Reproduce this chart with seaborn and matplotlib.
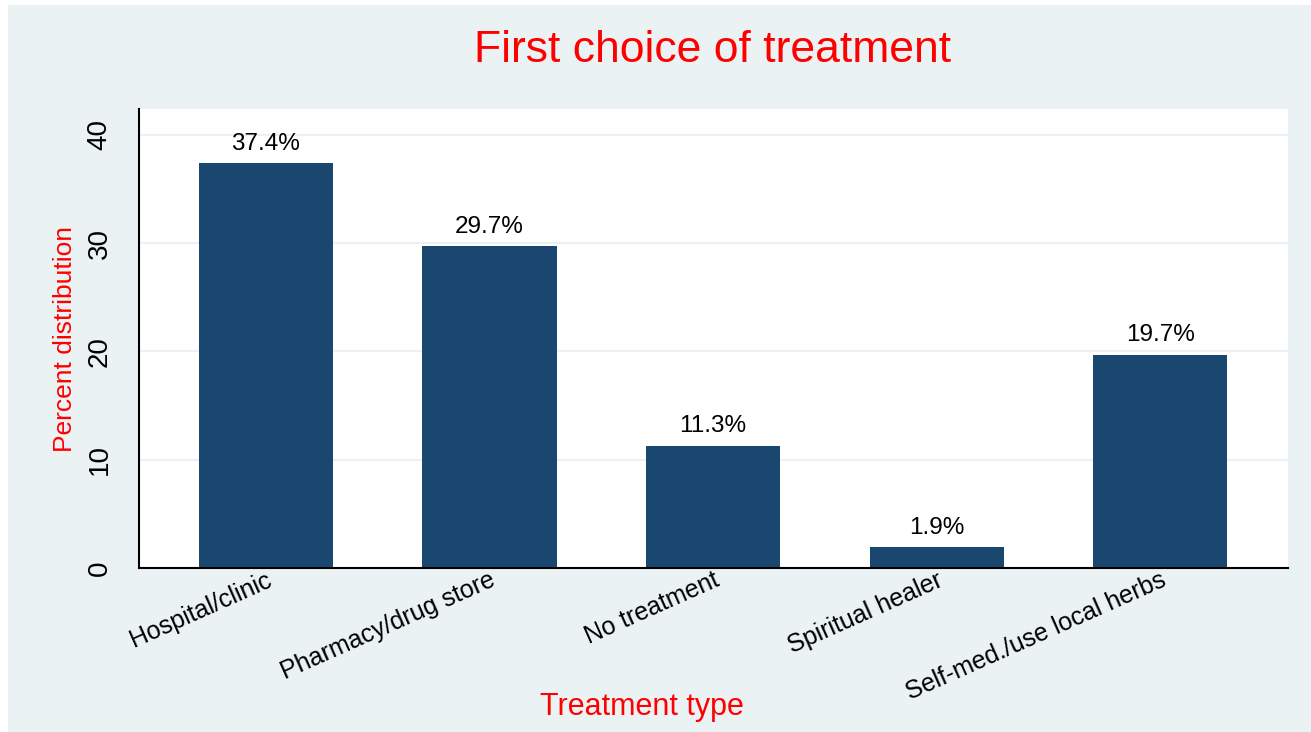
import matplotlib
matplotlib.use("Agg")
import matplotlib.pyplot as plt
import seaborn as sns
import pandas as pd
from matplotlib.patches import Rectangle

categories = ["Hospital/clinic", "Pharmacy/drug store", "No treatment",
              "Spiritual healer", "Self-med./use local herbs"]
values = [37.4, 29.7, 11.3, 1.9, 19.7]
yticks = [0, 10, 20, 30, 40]

BG = "#EAF2F3"
BAR = "#1A476F"

sns.set_style("white")
plt.rcParams["font.family"] = ["Liberation Sans", "DejaVu Sans"]
plt.rcParams["text.color"] = "black"
plt.rcParams["xtick.color"] = "black"
plt.rcParams["ytick.color"] = "black"
plt.rcParams["axes.labelcolor"] = "black"

W, H = 1311, 732
fig = plt.figure(figsize=(W / 100, H / 100), dpi=100, facecolor="white")
fig.patches.append(Rectangle((8 / W, 0), 1 - 8 / W, 1 - 5 / H,
                             transform=fig.transFigure, facecolor=BG,
                             edgecolor="none", zorder=-10))
ax = fig.add_axes([139 / W, 1 - 568 / H, (1288 - 139) / W, (568 - 109) / H])
ax.set_facecolor("white")

df = pd.DataFrame({"cat": categories, "val": values})
sns.barplot(data=df, x="cat", y="val", color=BAR, width=0.6, ax=ax,
            saturation=1, edgecolor="none")

ax.set_xlim(-0.567, 4.571)
ax.set_ylim(0, 42.4)
ax.set_yticks(yticks)
ax.set_yticklabels([str(t) for t in yticks], rotation=90, va="center",
                   fontsize=20)
ax.tick_params(axis="y", length=13, width=1.3, pad=6, color="black",
               labelcolor="black")
ax.tick_params(axis="x", length=0, pad=0, labelcolor="black")
for lab in ax.get_xticklabels():
    lab.set_rotation(24)
    lab.set_ha("right")
    lab.set_va("top")
    lab.set_rotation_mode("anchor")
    lab.set_fontsize(18)

ax.grid(axis="y", color=BG, linewidth=1.6)
ax.set_axisbelow(True)
for s in ["top", "right"]:
    ax.spines[s].set_visible(False)
for s in ["left", "bottom"]:
    ax.spines[s].set_color("black")
    ax.spines[s].set_linewidth(1.5)

ax.bar_label(ax.containers[0], labels=[f"{v}%" for v in values],
             padding=6, fontsize=17.5, color="black")

ax.set_xlabel("Treatment type", color="red", fontsize=22)
ax.xaxis.label.set_va("center")
ax.xaxis.set_label_coords((642 - 139) / 1149, (568 - 707) / 459)
ax.set_ylabel("Percent distribution", color="red", fontsize=19)
ax.yaxis.label.set_va("center")
ax.yaxis.set_label_coords((65 - 139) / 1149, 0.5)
fig.text((467 + 958) / 2 / W, 1 - 51 / H, "First choice of treatment",
         color="red", fontsize=32, ha="center", va="center")

fig.savefig("out.png", dpi=100, facecolor=fig.get_facecolor())
